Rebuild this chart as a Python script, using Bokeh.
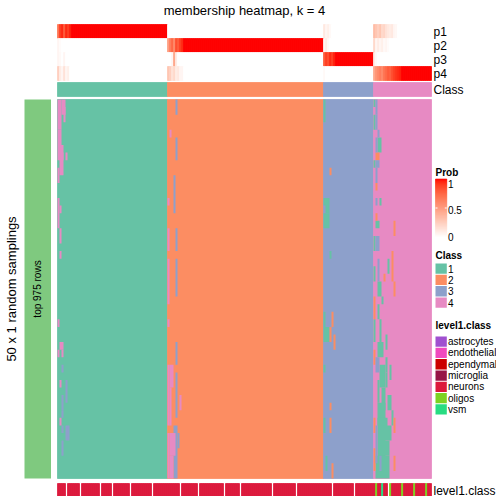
import numpy as np
from bokeh.plotting import figure
from bokeh.models import Range1d
from bokeh.core.properties import value
from bokeh.embed import file_html
from bokeh.resources import INLINE

# ---------------- data ----------------
TITLE = "membership heatmap, k = 4"
ROW_TITLE = "50 x 1 random samplings"
ROW_BLOCK_LABEL = "top 975 rows"
N_SAMPLINGS = 50

CLASS_LABELS = ["1", "2", "3", "4"]
CLASS_SIZES = [55, 78, 25, 29]
CLASS_COLORS = ["#66C2A5", "#FC8D62", "#8DA0CB", "#E78AC3"]

PROB_TRACKS = ["p1", "p2", "p3", "p4"]
# leading (left-most) probabilities inside each class block; rest of block is 1 for own class, 0 otherwise
P1_HEAD = [[0.7, 0.9, 0.95, 0.8, 0.95, 0.9, 0.97], [], [0.12, 0.05, 0.08, 0.03],
           [0.35, 0.3, 0.25, 0.3, 0.2, 0.22, 0.15, 0.12, 0.1, 0.12, 0.05, 0.04]]
P2_HEAD = [[0.05, 0.02], [0.5, 0.65, 0.75, 0.6, 0.85, 0.8, 0.9, 0.95], [0.05, 0.1, 0.03],
           [0.2, 0.05, 0.1, 0.05, 0.08, 0.03, 0.05, 0.02]]
P3_HEAD = [[0.05, 0.03, 0.0, 0.05], [0.0, 0.0, 0.05, 0.45, 0.1], [0.8, 0.9, 0.85, 0.95, 0.9, 0.97],
           [0.1, 0.03]]
P4_HEAD = [[0.25, 0.1, 0.05, 0.15, 0.05, 0.08], [0.3, 0.25, 0.15, 0.2, 0.1, 0.12, 0.05, 0.05], [0.03],
           [0.45, 0.55, 0.6, 0.65, 0.6, 0.7, 0.75, 0.8, 0.78, 0.85, 0.9, 0.93, 0.95, 0.97]]
PROB_TICK_LABELS = ["0", "0.5", "1"]

# sampling membership that differs from the consensus class: (col_from, col_to, row_from, row_to)
EXC_TO_1 = [(133, 133, 0, 2), (133, 134, 13, 13), (134, 135, 13, 14), (133, 135, 15, 16), (136, 136, 20, 20),
            (133, 133, 28, 29), (133, 135, 30, 31), (133, 133, 35, 35), (133, 133, 42, 43), (134, 134, 47, 48),
            (158, 158, 0, 0), (158, 158, 2, 3), (160, 161, 5, 6), (158, 158, 8, 8), (161, 161, 13, 13),
            (159, 160, 16, 16), (158, 158, 18, 19), (165, 165, 21, 22), (158, 158, 22, 23), (160, 161, 24, 25),
            (162, 162, 26, 26), (160, 160, 27, 28), (158, 158, 29, 31), (161, 161, 29, 31), (164, 164, 31, 32),
            (160, 162, 32, 33), (164, 164, 34, 35), (161, 163, 35, 37), (164, 164, 36, 37), (166, 166, 35, 36),
            (160, 160, 37, 39), (162, 163, 38, 40), (165, 166, 39, 40), (167, 167, 41, 42), (160, 163, 40, 42),
            (160, 164, 42, 43), (163, 166, 43, 44), (160, 163, 44, 47), (161, 165, 45, 46), (159, 165, 47, 49)]
EXC_TO_2 = [(136, 136, 9, 9), (137, 137, 28, 29), (136, 136, 30, 31), (138, 138, 31, 32), (136, 136, 40, 40),
            (136, 136, 42, 43), (137, 137, 48, 49),
            (159, 160, 7, 7), (159, 159, 11, 11), (159, 159, 15, 15), (168, 168, 16, 17), (167, 167, 20, 23),
            (163, 163, 23, 23), (168, 168, 24, 25), (158, 158, 26, 28), (158, 158, 33, 34), (158, 158, 42, 43),
            (168, 168, 42, 43), (158, 158, 46, 48), (168, 168, 47, 48)]
EXC_TO_3 = [(2, 2, 35, 35), (4, 4, 37, 39), (2, 2, 39, 40), (2, 2, 41, 41), (2, 2, 43, 43), (4, 5, 43, 44),
            (2, 2, 45, 46),
            (59, 59, 0, 1), (59, 59, 5, 7), (58, 58, 10, 14), (59, 59, 17, 19), (59, 59, 21, 25), (59, 59, 32, 34),
            (59, 59, 36, 41), (58, 59, 43, 49), (60, 60, 44, 45), (57, 57, 45, 46),
            (159, 159, 0, 1), (159, 159, 2, 3), (160, 160, 4, 4), (159, 159, 5, 6), (159, 160, 8, 8),
            (159, 159, 9, 10), (159, 159, 13, 13), (159, 160, 18, 19), (160, 160, 21, 23), (159, 160, 34, 35),
            (159, 159, 43, 47), (161, 161, 47, 48)]
EXC_TO_4 = [(0, 1, 0, 3), (2, 3, 0, 1), (3, 3, 1, 2), (0, 1, 4, 5), (0, 2, 6, 7), (4, 4, 7, 7), (1, 2, 7, 9),
            (0, 0, 9, 10), (0, 0, 13, 16), (1, 1, 14, 14), (1, 1, 17, 18), (1, 1, 20, 20), (0, 0, 29, 29),
            (1, 2, 32, 32), (0, 0, 33, 33), (2, 2, 33, 33), (1, 1, 37, 37), (1, 1, 42, 42),
            (55, 55, 13, 13), (55, 55, 17, 19), (55, 55, 21, 26), (56, 56, 4, 4), (55, 55, 29, 29),
            (55, 55, 35, 42), (56, 57, 35, 37), (56, 56, 38, 42), (55, 55, 44, 49), (56, 58, 44, 46),
            (56, 57, 47, 49), (61, 61, 39, 40)]

LEVEL1_NAMES = ["astrocytes", "endothelial", "ependymal", "microglia", "neurons", "oligos", "vsm"]
LEVEL1_CODES = ["a", "d", "e", "m", "n", "o", "v"]
LEVEL1_COLORS = ["#A050D0", "#F048BE", "#CC0000", "#961446", "#DC193C", "#7DD223", "#28DC82"]
LEVEL1 = ("nnnn-nnnnn" "n-nnnnnnnn" "n-nnnnn-nn" "nnnnnn-nnn" "nnnnnnn-nn" "nnnnn"
          "nnnnnn-nnn" "nnnnn-nnnn" "nnnnnnnn-n" "nnnnnn-nnn" "nnnnnnnnnn" "nn-nnnnnnn" "nnnn-nnnnn" "nnnnnnnn"
          "nnnn-nnnnn" "nnnnn-nnnn" "nnnnn"
          "nonnvnn-on" "nnnnonnnnn" "onnnnnonn")
LEVEL1_TITLE = "level1.class"
BLOCK_COLOR = "#7FC97F"

# ---------------- layout constants (picture pixels) ----------------
FONT = value("Liberation Sans")
W = H = 496
X0, CW = 57.0, 2.0
Y0, Y1 = 99.0, 478.0
ROW_PX = (Y1 - Y0) / N_SAMPLINGS
TRACK_TOP, TRACK_H = 24.0, 14.0
CLASS_TRACK = (82.0, 96.0)
STRIP = (483.0, 497.0)
BLOCK_X = (24.0, 50.5)
NAME_X = 433.0
LEG_X = 435.0
LEG_LABEL_DX = 12.5
KEY_W = 11.3


def dx(px):
    return (px - X0) / CW


def dy(py):
    return (py - Y0) / ROW_PX


# colour ramp white -> red in LAB space
def _lab(rgb):
    c = np.array(rgb, float) / 255
    lin = np.where(c <= 0.04045, c / 12.92, ((c + 0.055) / 1.055) ** 2.4)
    M = np.array([[0.4124, 0.3576, 0.1805], [0.2126, 0.7152, 0.0722], [0.0193, 0.1192, 0.9505]])
    X, Y, Z = M @ lin / np.array([0.95047, 1.0, 1.08883])
    f = lambda t: t ** (1 / 3) if t > (6 / 29) ** 3 else t / (3 * (6 / 29) ** 2) + 4 / 29
    return np.array([116 * f(Y) - 16, 500 * (f(X) - f(Y)), 200 * (f(Y) - f(Z))])


def _rgb(lab):
    L, a, b = lab
    fy = (L + 16) / 116
    fx, fz = fy + a / 500, fy - b / 200
    g = lambda t: t ** 3 if t > 6 / 29 else 3 * (6 / 29) ** 2 * (t - 4 / 29)
    xyz = np.array([g(fx) * 0.95047, g(fy), g(fz) * 1.08883])
    Mi = np.array([[3.2406, -1.5372, -0.4986], [-0.9689, 1.8758, 0.0415], [0.0557, -0.2040, 1.0570]])
    lin = np.clip(Mi @ xyz, 0, 1)
    c = np.where(lin <= 0.0031308, 12.92 * lin, 1.055 * lin ** (1 / 2.4) - 0.055)
    r, gg, bb = (np.clip(c, 0, 1) * 255).round().astype(int)
    return "#%02x%02x%02x" % (r, gg, bb)


LAB_W, LAB_R = _lab((255, 255, 255)), _lab((255, 0, 0))


def prob_color(v):
    return _rgb(LAB_W + (LAB_R - LAB_W) * v)


# ---------------- figure ----------------
p = figure(width=W, height=H, output_backend="svg", toolbar_location=None,
           x_range=Range1d(dx(0), dx(W)), y_range=Range1d(dy(H), dy(0)),
           x_axis_location=None, y_axis_location=None, min_border=0, tools="")
p.grid.visible = False
p.outline_line_color = None

n_cols = sum(CLASS_SIZES)
starts = np.concatenate([[0], np.cumsum(CLASS_SIZES)[:-1]])

# probability tracks
heads = [P1_HEAD, P2_HEAD, P3_HEAD, P4_HEAD]
cols = np.arange(n_cols)
for t in range(4):
    vals = []
    for k in range(4):
        block = [1.0 if t == k else 0.0] * CLASS_SIZES[k]
        h = heads[t][k]
        block[:len(h)] = h
        vals += block
    top = TRACK_TOP + t * TRACK_H
    colors = [prob_color(v) for v in vals]
    p.quad(left=cols, right=cols + 1, top=[dy(top)] * n_cols, bottom=[dy(top + TRACK_H)] * n_cols,
           fill_color=colors, line_color=colors, line_width=0.8)

# class track and heatmap background (consensus class per column)
for k in range(4):
    s, n = starts[k], CLASS_SIZES[k]
    p.quad(left=[s], right=[s + n], top=[dy(CLASS_TRACK[0])], bottom=[dy(CLASS_TRACK[1])],
           fill_color=CLASS_COLORS[k], line_color=CLASS_COLORS[k], line_width=0.8)
    p.quad(left=[s], right=[s + n], top=[0], bottom=[N_SAMPLINGS],
           fill_color=CLASS_COLORS[k], line_color=CLASS_COLORS[k], line_width=0.8)

# samplings that disagree with consensus
for k, exc in enumerate([EXC_TO_1, EXC_TO_2, EXC_TO_3, EXC_TO_4]):
    e = np.array(exc, float)
    p.quad(left=e[:, 0], right=e[:, 1] + 1, top=e[:, 2], bottom=e[:, 3] + 1,
           fill_color=CLASS_COLORS[k], line_color=None)

# level1.class strip
lv = [(i, LEVEL1_COLORS[LEVEL1_CODES.index(c)]) for i, c in enumerate(LEVEL1) if c != "-"]
lvc = [c for _, c in lv]
p.quad(left=[i for i, _ in lv], right=[i + 1 for i, _ in lv],
       top=[dy(STRIP[0])] * len(lv), bottom=[dy(STRIP[1])] * len(lv),
       fill_color=lvc, line_color=lvc, line_width=0.8)

# row block
p.quad(left=[dx(BLOCK_X[0])], right=[dx(BLOCK_X[1])], top=[0], bottom=[N_SAMPLINGS],
       fill_color=BLOCK_COLOR, line_color=None)
p.text(x=[dx((BLOCK_X[0] + BLOCK_X[1]) / 2)], y=[N_SAMPLINGS / 2], text=[ROW_BLOCK_LABEL], angle=np.pi / 2,
       text_font=FONT, text_font_size="10px", text_align="center", text_baseline="middle", text_color="black")
p.text(x=[dx(11)], y=[N_SAMPLINGS / 2], text=[ROW_TITLE], angle=np.pi / 2,
       text_font=FONT, text_font_size="13px", text_align="center", text_baseline="middle", text_color="black")

# title
p.text(x=[n_cols / 2], y=[dy(10)], text=[TITLE], text_font=FONT, text_font_size="13px",
       text_align="center", text_baseline="middle", text_color="black")

# annotation names
names = PROB_TRACKS + ["Class", LEVEL1_TITLE]
ys = [TRACK_TOP + TRACK_H * (t + 0.5) for t in range(4)] + [sum(CLASS_TRACK) / 2, sum(STRIP) / 2]
p.text(x=[dx(NAME_X)] * len(names), y=[dy(v) for v in ys], text=names, text_font=FONT,
       text_font_size="12px", text_align="left", text_baseline="middle", text_color="black")

# Prob legend
BAR_TOP, BAR_BOT = 178.5, 236.5
p.text(x=[dx(LEG_X)], y=[dy(172)], text=["Prob"], text_font=FONT, text_font_size="10px",
       text_font_style="bold", text_align="left", text_baseline="middle", text_color="black")
nseg = 58
segs = np.linspace(0, 1, nseg + 1)
seg_tops = BAR_BOT - (BAR_BOT - BAR_TOP) * segs[1:]
seg_bots = BAR_BOT - (BAR_BOT - BAR_TOP) * segs[:-1]
seg_cols = [prob_color((a + b) / 2) for a, b in zip(segs[:-1], segs[1:])]
p.quad(left=[dx(LEG_X)] * nseg, right=[dx(LEG_X + KEY_W)] * nseg,
       top=[dy(v) for v in seg_tops], bottom=[dy(v) for v in seg_bots],
       fill_color=seg_cols, line_color=seg_cols, line_width=0.6)
mid = dy((BAR_TOP + BAR_BOT) / 2)
p.segment(x0=[dx(LEG_X), dx(LEG_X + KEY_W - 2)], x1=[dx(LEG_X + 2), dx(LEG_X + KEY_W)], y0=[mid, mid],
          y1=[mid, mid], line_color="white", line_width=1)
tick_y = [236.0, 209.5, 183.0]
p.text(x=[dx(LEG_X + LEG_LABEL_DX)] * 3, y=[dy(v) for v in tick_y], text=PROB_TICK_LABELS, text_font=FONT,
       text_font_size="10px", text_align="left", text_baseline="middle", text_color="black")


def discrete_legend(title, title_y, first_key_top, labels, colors):
    p.text(x=[dx(LEG_X)], y=[dy(title_y)], text=[title], text_font=FONT, text_font_size="10px",
           text_font_style="bold", text_align="left", text_baseline="middle", text_color="black")
    tops = [first_key_top + KEY_W * i for i in range(len(labels))]
    p.quad(left=[dx(LEG_X)] * len(labels), right=[dx(LEG_X + KEY_W)] * len(labels),
           top=[dy(t + 0.5) for t in tops], bottom=[dy(t + KEY_W - 0.5) for t in tops],
           fill_color=colors, line_color=None)
    p.text(x=[dx(LEG_X + LEG_LABEL_DX)] * len(labels), y=[dy(t + KEY_W / 2) for t in tops], text=labels,
           text_font=FONT, text_font_size="10px", text_align="left", text_baseline="middle", text_color="black")


discrete_legend("Class", 255, 262.5, CLASS_LABELS, CLASS_COLORS)
discrete_legend(LEVEL1_TITLE, 325, 335.5, LEVEL1_NAMES, LEVEL1_COLORS)

open("out.html", "w").write(file_html(p, INLINE))
